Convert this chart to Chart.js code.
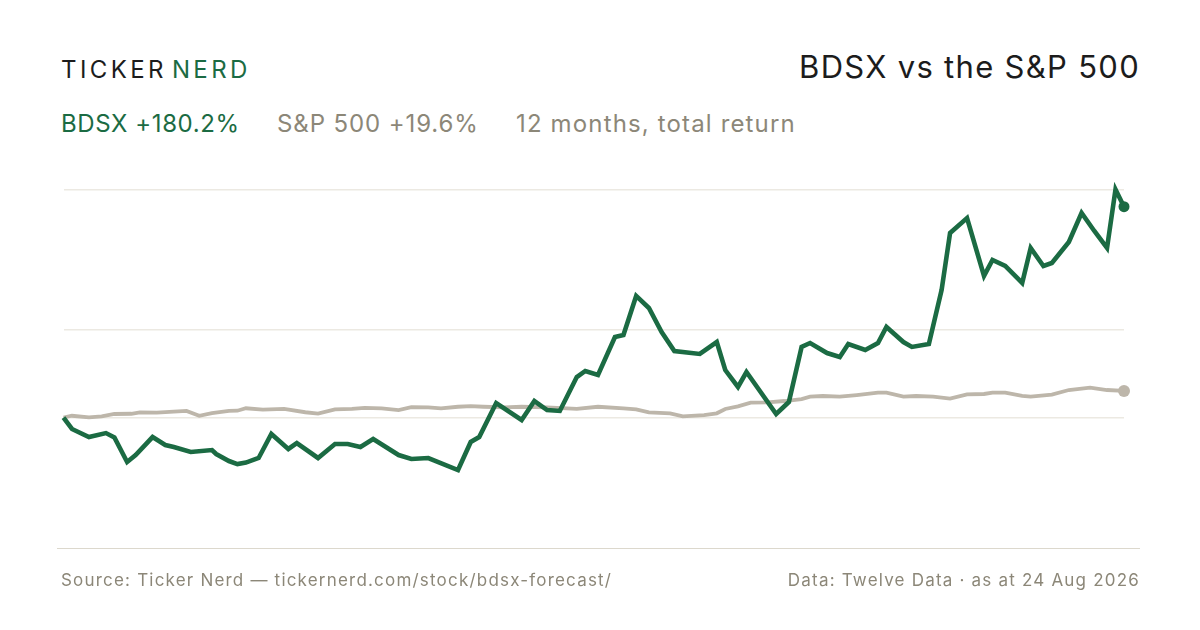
<!DOCTYPE html>
<html>
<head>
<meta charset="utf-8">
<script src="https://cdn.jsdelivr.net/npm/chart.js@4.4.1/dist/chart.umd.min.js"></script>
<style>
  html, body { margin: 0; padding: 0; background: #fff; }
  body { width: 1200px; height: 630px; position: relative; overflow: hidden; font-family: Inter, "Noto Sans", sans-serif; }
  .abs { position: absolute; white-space: nowrap; }
  #brand { left: 61px; top: 55px; font-size: 24px; letter-spacing: 3.4px; line-height: 30px; color: #1c1c1c; }
  #brand .g { color: #1b6b43; margin-left: 5px; }
  #title { right: 60px; top: 47px; font-size: 31px; letter-spacing: 1.3px; line-height: 40px; color: #1c1c1c; }
  .sub { top: 108px; font-size: 24px; letter-spacing: 0.9px; line-height: 32px; color: #8c8778; }
  #subBdsx { left: 61px; color: #1b6b43; letter-spacing: 0.6px; }
  #subSpx { left: 277px; }
  #subPeriod { left: 516px; letter-spacing: 1.15px; }
  #rule { left: 57px; top: 547.5px; width: 1083px; height: 0; border-top: 1.5px solid #dcd8cd; }
  .foot { top: 569px; font-size: 17px; letter-spacing: 1.2px; line-height: 22px; color: #8c8778; }
  #footL { left: 61px; }
  #footR { right: 60px; }
  #wrap { position: absolute; left: 0; top: 0; width: 1200px; height: 630px; }
</style>
</head>
<body>
<div id="brand" class="abs">TICKER<span class="g">NERD</span></div>
<div id="title" class="abs">BDSX vs the S&amp;P 500</div>
<div id="subBdsx" class="abs sub">BDSX +180.2%</div>
<div id="subSpx" class="abs sub">S&amp;P 500 +19.6%</div>
<div id="subPeriod" class="abs sub">12 months, total return</div>
<div id="wrap"><canvas id="perfChart"></canvas></div>
<div id="rule" class="abs"></div>
<div id="footL" class="abs foot">Source: Ticker Nerd — tickernerd.com/stock/bdsx-forecast/</div>
<div id="footR" class="abs foot">Data: Twelve Data · as at 24 Aug 2026</div>
<script>
// -------------------- DATA (trading day index, % total return) --------------------
const bdsxDays = [0, 2, 6, 10, 12, 15, 17, 21, 24, 26, 30, 35, 36, 39, 41, 43, 46, 49, 53, 55,
  60, 64, 67, 70, 73, 79, 82, 86, 93, 96, 98, 102, 108, 111, 114, 117, 121, 123, 126, 130,
  132, 135, 138, 141, 144, 150, 154, 156, 159, 161, 168, 171, 174, 176, 180, 183, 185, 189, 192, 194,
  198, 200, 204, 207, 209, 213, 217, 219, 222, 226, 228, 231, 233, 237, 240, 243, 246, 248, 250];
const bdsxReturn = [0, -9.8, -16.7, -13.3, -17.1, -38.0, -32.1, -16.7, -23.5, -25.2,
  -29.5, -27.8, -31.2, -37.2, -39.8, -38.5, -34.6, -14.1, -26.9, -21.8,
  -34.6, -22.7, -22.7, -25.2, -18.4, -32.1, -35.5, -34.6, -44.9, -20.9,
  -16.7, 12.4, -2.1, 14.1, 6.4, 5.6, 34.6, 39.8, 36.3, 68.8,
  70.5, 103.9, 93.6, 73.1, 56.8, 54.3, 64.5, 40.6, 26.1, 38.9,
  3.0, 13.3, 60.3, 63.7, 55.1, 51.7, 62.8, 57.7, 63.7, 77.4,
  64.5, 60.3, 62.8, 109.0, 157.7, 170.5, 121.0, 134.6, 129.5, 115.0,
  144.9, 129.5, 132.1, 150.0, 174.8, 159.4, 144.9, 194.9, 180.2];

const spxDays = [0, 2, 6, 9, 12, 16, 18, 22, 26, 29, 32, 35, 39, 41, 43, 47, 52, 57, 60, 64,
  68, 71, 75, 79, 82, 86, 89, 93, 96, 99, 104, 108, 114, 121, 126, 132, 135, 138, 143, 146,
  151, 154, 156, 159, 162, 166, 170, 174, 176, 179, 183, 187, 192, 194, 198, 201, 205, 209, 213, 217,
  219, 222, 226, 228, 233, 237, 242, 246, 250];
const spxReturn = [0, 1.5, 0.2, 1.0, 3.0, 3.2, 4.4, 4.1, 5.0, 5.6,
  1.5, 3.8, 5.6, 5.8, 7.9, 6.7, 7.3, 4.5, 3.3, 7.0,
  7.3, 8.3, 7.8, 6.4, 8.9, 8.6, 7.8, 9.2, 9.8, 9.2,
  8.6, 9.2, 8.6, 7.3, 9.2, 7.8, 7.0, 4.4, 3.6, 1.0,
  2.1, 3.6, 7.3, 9.5, 12.7, 13.0, 14.1, 15.8, 17.8, 18.4,
  17.8, 19.2, 21.2, 21.2, 17.8, 18.4, 17.8, 16.1, 19.8, 20.1,
  21.2, 21.2, 18.4, 17.8, 19.5, 23.5, 25.5, 23.5, 22.7];

// gridlines: zero, midpoint, high
const gridValues = [0, 74.8, 194.7];

const toPoints = (days, vals) => days.map((d, i) => ({ x: d, y: vals[i] }));
const lastDot = (r) => (ctx) => ctx.dataIndex === ctx.dataset.data.length - 1 ? r : 0;

// -------------------- CHART --------------------
const ctx = document.getElementById('perfChart').getContext('2d');
new Chart(ctx, {
  type: 'line',
  data: {
    datasets: [
      {
        label: 'BDSX',
        data: toPoints(bdsxDays, bdsxReturn),
        borderColor: '#1b6b43',
        backgroundColor: '#1b6b43',
        borderWidth: 4.6,
        pointRadius: lastDot(5.5),
        pointBorderWidth: 0,
        tension: 0,
        clip: false
      },
      {
        label: 'S&P 500',
        data: toPoints(spxDays, spxReturn),
        borderColor: '#bdb6aa',
        backgroundColor: '#bdb6aa',
        borderWidth: 3.8,
        pointRadius: lastDot(6),
        pointBorderWidth: 0,
        tension: 0,
        clip: false
      }
    ]
  },
  options: {
    responsive: true,
    maintainAspectRatio: false,
    animation: false,
    layout: { padding: { left: 63.5, right: 76, top: 183.5, bottom: 130 } },
    plugins: { legend: { display: false }, tooltip: { enabled: false } },
    scales: {
      x: { type: 'linear', min: 0, max: 250, display: false },
      y: {
        min: -70.5,
        max: 200,
        border: { display: false },
        ticks: { display: false },
        grid: { color: '#ece9e2', lineWidth: 1.5, drawTicks: false },
        afterBuildTicks: (scale) => { scale.ticks = gridValues.map(v => ({ value: v })); }
      }
    }
  }
});
</script>
</body>
</html>
